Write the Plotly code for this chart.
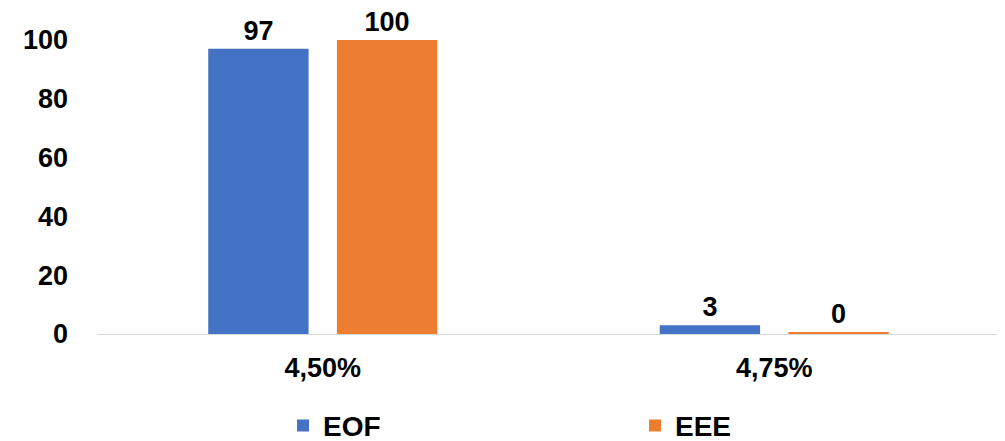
import plotly.graph_objects as go

categories = ["4,50%", "4,75%"]
eof_values = [97, 3]
eee_values = [100, 0.7]
y_ticks = [0, 20, 40, 60, 80, 100]

FONT = "Liberation Sans, Arial, sans-serif"


def labels(values):
    return [str(int(v)) for v in values]


fig = go.Figure()
fig.add_trace(go.Bar(
    name="EOF", x=categories, y=eof_values, marker_color="#4472C4",
    marker_line_width=0,
    text=labels(eof_values), texttemplate="%{text}", textposition="outside",
    cliponaxis=False,
    textfont=dict(family=FONT, size=27, color="#000000", weight="bold"),
))
fig.add_trace(go.Bar(
    name="EEE", x=categories, y=eee_values, marker_color="#ED7D31",
    marker_line_width=0,
    text=labels(eee_values), texttemplate="%{text}", textposition="outside",
    cliponaxis=False,
    textfont=dict(family=FONT, size=27, color="#000000", weight="bold"),
))

# page body has an 8px default margin, so the figure is sized/offset to fit
fig.update_layout(
    width=997, height=433,
    margin=dict(l=89, r=5, t=32, b=107, autoexpand=False),
    paper_bgcolor="white", plot_bgcolor="white",
    barmode="group", bargap=0.43, bargroupgap=0.22,
    font=dict(family=FONT, size=27, color="#000000", weight="bold"),
    showlegend=True,
    legend=dict(
        orientation="h", x=0.206, xanchor="left", y=-0.312, yanchor="middle",
        font=dict(family=FONT, size=28, color="#000000", weight="bold"),
        entrywidth=307, itemsizing="constant", bgcolor="rgba(0,0,0,0)",
    ),
)
fig.update_xaxes(
    showgrid=False, showline=True, linecolor="#D9D9D9", linewidth=1,
    ticks="", ticklabelstandoff=10, automargin=False,
    tickfont=dict(family=FONT, size=27, color="#000000", weight="bold"),
)
fig.update_yaxes(
    range=[0, 100], tickvals=y_ticks, showgrid=False, zeroline=False,
    showline=False, ticklabelstandoff=28, automargin=False,
    tickfont=dict(family=FONT, size=27, color="#000000", weight="bold"),
)

fig.write_html("out.html")
